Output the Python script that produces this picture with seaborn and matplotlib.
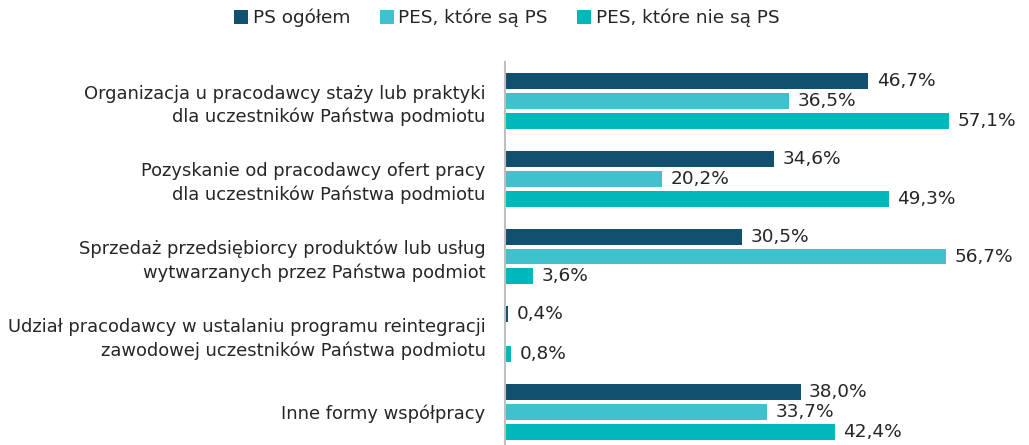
import numpy as np
import pandas as pd
import seaborn as sns
import matplotlib.pyplot as plt

categories = [
    "Organizacja u pracodawcy staży lub praktyki\ndla uczestników Państwa podmiotu",
    "Pozyskanie od pracodawcy ofert pracy\ndla uczestników Państwa podmiotu",
    "Sprzedaż przedsiębiorcy produktów lub usług\nwytwarzanych przez Państwa podmiot",
    "Udział pracodawcy w ustalaniu programu reintegracji\nzawodowej uczestników Państwa podmiotu",
    "Inne formy współpracy",
]
series = ["PS ogółem", "PES, które są PS", "PES, które nie są PS"]
ps_ogolem = [46.7, 34.6, 30.5, 0.4, 38.0]
pes_ps = [36.5, 20.2, 56.7, 0.0, 33.7]   # brak wartości w czwartej kategorii
pes_nie_ps = [57.1, 49.3, 3.6, 0.8, 42.4]
colors = ["#12506F", "#3FC1CE", "#00B8BC"]

df = pd.DataFrame({
    "kategoria": categories * 3,
    "seria": np.repeat(series, len(categories)),
    "wartosc": ps_ogolem + pes_ps + pes_nie_ps,
})

sns.set_theme(style="white")
plt.rcParams["font.family"] = ["DejaVu Sans"]
text_color = "#262626"

fig = plt.figure(figsize=(10.29, 4.45), dpi=100)
ax = fig.add_axes([505 / 1029, (445 - 451) / 445, 1 - 505 / 1029, (451 - 62) / 445])

sns.barplot(data=df, y="kategoria", x="wartosc", hue="seria", hue_order=series,
            order=categories, palette=colors, orient="h", width=0.77, gap=0.2,
            saturation=1, linewidth=0, ax=ax, legend=True)

for cont, vals in zip(ax.containers, [ps_ogolem, pes_ps, pes_nie_ps]):
    labels = ["" if v == 0 else f"{v:.1f}%".replace(".", ",") for v in vals]
    ax.bar_label(cont, labels=labels, padding=6, fontsize=13.3, color=text_color)

ax.set_xlim(0, (1029 - 505) / 7.78)
ax.set_ylim(4.5, -0.5)
ax.set_xlabel("")
ax.set_ylabel("")
ax.set_xticks([])
ax.tick_params(axis="y", length=0, pad=14, labelsize=12.9, labelcolor=text_color)
for lab in ax.get_yticklabels():
    lab.set_horizontalalignment("right")
    lab.set_multialignment("right")
    lab.set_linespacing(1.35)
for side in ["top", "right", "bottom"]:
    ax.spines[side].set_visible(False)
ax.spines["left"].set_color("#BFBFBF")
ax.spines["left"].set_linewidth(1.5)

handles, labels = ax.get_legend_handles_labels()
ax.get_legend().remove()
fig.legend(handles, labels, loc="center", bbox_to_anchor=(507 / 1029, 1 - 18 / 445),
           ncol=3, frameon=False, fontsize=13.3, handlelength=0.75, handleheight=0.75,
           handletextpad=0.25, columnspacing=1.6, labelcolor=text_color)

fig.savefig("out.png", dpi=100)
